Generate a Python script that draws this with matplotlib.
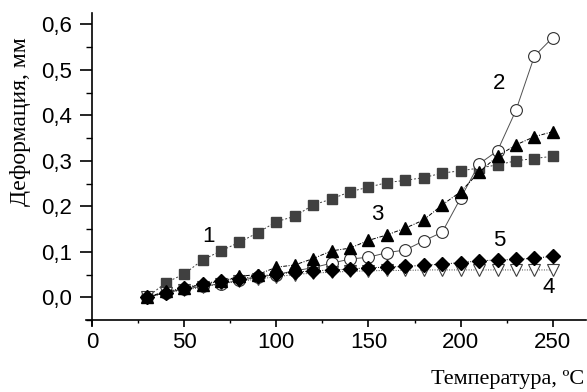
"""Deformation vs temperature chart."""
import matplotlib
matplotlib.use("Agg")
import matplotlib.pyplot as plt
from matplotlib.ticker import FuncFormatter, MultipleLocator

temp = [30, 40, 50, 60, 70, 80, 90, 100, 110, 120, 130, 140,
        150, 160, 170, 180, 190, 200, 210, 220, 230, 240, 250]

s1 = [0.0, 0.032, 0.051, 0.082, 0.102, 0.121, 0.142, 0.166, 0.178, 0.203, 0.216, 0.232,
      0.242, 0.252, 0.257, 0.263, 0.273, 0.278, 0.284, 0.291, 0.300, 0.305, 0.310]
s2 = [0.0, 0.010, 0.018, 0.024, 0.030, 0.037, 0.044, 0.050, 0.058, 0.065, 0.075, 0.084,
      0.088, 0.098, 0.104, 0.124, 0.143, 0.218, 0.293, 0.322, 0.411, 0.530, 0.571]
s3 = [0.0, 0.013, 0.020, 0.028, 0.035, 0.046, 0.050, 0.066, 0.071, 0.085, 0.102, 0.108,
      0.125, 0.137, 0.152, 0.170, 0.203, 0.232, 0.275, 0.310, 0.335, 0.353, 0.364]
s4 = [0.0, 0.010, 0.016, 0.022, 0.030, 0.035, 0.040, 0.045, 0.050, 0.053, 0.055, 0.057,
      0.058, 0.059, 0.059, 0.060, 0.060, 0.060, 0.060, 0.060, 0.060, 0.060, 0.060]
s5 = [0.0, 0.010, 0.020, 0.030, 0.036, 0.041, 0.046, 0.051, 0.055, 0.058, 0.060, 0.062,
      0.065, 0.066, 0.068, 0.070, 0.073, 0.076, 0.080, 0.082, 0.083, 0.086, 0.090]

labels = ["1", "2", "3", "4", "5"]
label_pos = [(63, 0.133), (221, 0.47), (155, 0.181), (248, 0.021), (221, 0.124)]

plt.rcParams['font.family'] = ['Liberation Sans', 'DejaVu Sans']

fig = plt.figure(figsize=(5.87, 3.92), dpi=100)
ax = fig.add_axes([0.1567, 0.1837, 0.8416, 0.7833])

ax.plot(temp, s1, linestyle=(0, (2, 2)), color='#404040', lw=0.7, marker='s', ms=7.8,
        mfc='#404040', mec='#404040', zorder=3)
ax.plot(temp, s2, linestyle='-', color='#505050', lw=0.7, marker='o', ms=8.5,
        mfc='white', mec='#303030', mew=0.8, zorder=3)
ax.plot(temp, s3, linestyle=(0, (4, 1.5, 1, 1.5)), color='black', lw=0.7, marker='^', ms=9,
        mfc='black', mec='black', zorder=4)
ax.plot(temp, s4, linestyle=(0, (1, 1.5)), color='#404040', lw=0.7, marker='v', ms=8,
        mfc='white', mec='#404040', mew=0.8, zorder=3)
ax.plot(temp, s5, linestyle=(0, (1, 1.5)), color='black', lw=0.7, marker='D', ms=7.5,
        mfc='black', mec='black', zorder=5)

for lab, (x, y) in zip(labels, label_pos):
    ax.text(x, y, lab, fontsize=16, ha='center', va='center')

ax.set_xlim(0, 268)
ax.set_ylim(-0.05, 0.625)
ax.xaxis.set_major_locator(MultipleLocator(50))
ax.xaxis.set_minor_locator(MultipleLocator(25))
ax.yaxis.set_major_locator(MultipleLocator(0.1))
ax.yaxis.set_minor_locator(MultipleLocator(0.05))
ax.yaxis.set_major_formatter(FuncFormatter(lambda v, p: f"{v:.1f}".replace('.', ',')))

for s in ['top', 'right']:
    ax.spines[s].set_visible(False)
for s in ['left', 'bottom']:
    ax.spines[s].set_linewidth(1.2)
# axis lines overshoot each other a little at the origin
ax.spines['bottom'].set_bounds(-3.3, 268)
ax.spines['left'].set_bounds(-0.061, 0.625)

ax.tick_params(axis='x', which='major', length=5, width=1.2, labelsize=16, pad=4)
ax.tick_params(axis='x', which='minor', length=2.5, width=1.0)
ax.tick_params(axis='y', which='major', length=8.6, width=1.2, labelsize=16, pad=6)
ax.tick_params(axis='y', which='minor', length=4.3, width=1.0)

fig.text(0.995, 0.033, "Температура, ºC", family='Liberation Serif', fontsize=16,
         ha='right', va='center')
fig.text(0.035, 0.69, "Деформация, мм", family='Liberation Serif', fontsize=17,
         rotation=90, ha='center', va='center')

fig.savefig("out.png", dpi=100)
